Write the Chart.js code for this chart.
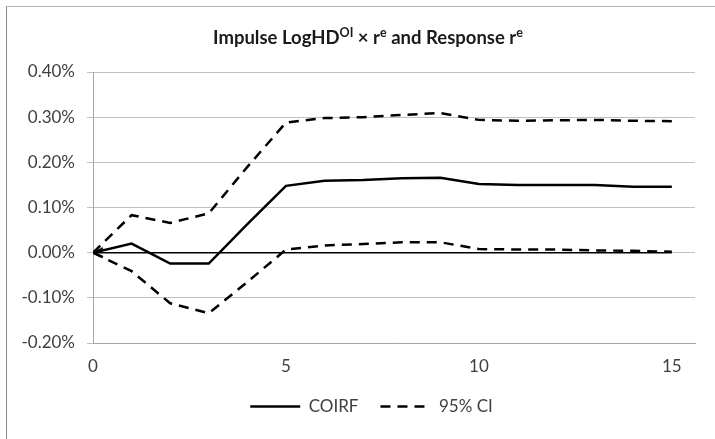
<!DOCTYPE html>
<html>
<head>
<meta charset="utf-8">
<script src="https://cdn.jsdelivr.net/npm/chart.js@4"></script>
<style>
    body { margin: 0; background: #fff; }
    .frame { position: absolute; left: 6px; top: 6px; width: 720px; height: 440px;
             border-top: 1px solid #b4b4b4; border-left: 1px solid #8c8c8c; }
    .wrap { position: absolute; left: 0; top: 0; width: 715px; height: 439px; }
</style>
</head>
<body>
<div class="frame"></div>
<div class="wrap"><canvas id="irfChart" width="715" height="439"></canvas></div>
<script>
    // Horizon (periods) and responses, in percent
    const periods = [0, 1, 2, 3, 4, 5, 6, 7, 8, 9, 10, 11, 12, 13, 14, 15];
    const coirf   = [0, 0.020, -0.024, -0.024, 0.063, 0.148, 0.159, 0.161, 0.165, 0.166, 0.152, 0.150, 0.150, 0.150, 0.146, 0.146];
    const ciUpper = [0, 0.083, 0.066, 0.087, 0.190, 0.288, 0.298, 0.300, 0.305, 0.309, 0.294, 0.292, 0.293, 0.294, 0.292, 0.291];
    const ciLower = [0, -0.041, -0.112, -0.134, -0.065, 0.007, 0.016, 0.019, 0.023, 0.023, 0.008, 0.007, 0.007, 0.005, 0.004, 0.002];
    const zeroLine = periods.map(() => 0);
    const xTicks = [0, 5, 10, 15];

    const FONT = 'Lato, "Open Sans", sans-serif';
    const DASH = [10, 7];

    // Open arrow head marking the start of the zero line
    const arrow = document.createElement('canvas');
    arrow.width = 24;
    arrow.height = 14;
    const actx = arrow.getContext('2d');
    actx.strokeStyle = '#000';
    actx.lineWidth = 2.2;
    actx.beginPath();
    actx.moveTo(22, 2.5);
    actx.lineTo(12.5, 7);
    actx.lineTo(22, 11.5);
    actx.stroke();

    const toPoints = arr => arr.map((v, i) => ({ x: periods[i], y: v }));

    // Title with superscripts
    const titlePlugin = {
        id: 'supTitle',
        afterLayout(chart) {
            // legend sits a bit right of the canvas centre
            chart.legend.left += 24;
            chart.legend.right += 24;
        },
        afterDraw(chart) {
            const ctx = chart.ctx;
            const parts = [
                ['Impulse LogHD', false], ['OI', true], [' \u00d7 r', false], ['e', true],
                [' and Response r', false], ['e', true]
            ];
            const big = 'bold 18.5px ' + FONT;
            const small = 'bold 12.5px ' + FONT;
            ctx.save();
            let total = 0;
            parts.forEach(p => { ctx.font = p[1] ? small : big; total += ctx.measureText(p[0]).width; });
            let x = 368 - total / 2;
            ctx.fillStyle = '#1a1a1a';
            ctx.textBaseline = 'alphabetic';
            parts.forEach(p => {
                ctx.font = p[1] ? small : big;
                ctx.fillText(p[0], x, p[1] ? 37 : 44);
                x += ctx.measureText(p[0]).width;
            });
            ctx.restore();
        }
    };

    new Chart(document.getElementById('irfChart'), {
        type: 'line',
        data: {
            datasets: [{
                label: 'COIRF',
                data: toPoints(coirf),
                borderColor: '#000',
                borderWidth: 2.5,
                pointRadius: 0,
                tension: 0
            }, {
                label: '95% CI',
                data: toPoints(ciUpper),
                borderColor: '#000',
                borderWidth: 2.5,
                borderDash: DASH,
                pointRadius: 0,
                tension: 0
            }, {
                label: 'lower',
                data: toPoints(ciLower),
                borderColor: '#000',
                borderWidth: 2.5,
                borderDash: DASH,
                pointRadius: 0,
                tension: 0
            }, {
                label: 'zero',
                data: toPoints(zeroLine),
                borderColor: '#000',
                borderWidth: 1.5,
                pointRadius: ctx => ctx.dataIndex === 0 ? 6 : 0,
                pointStyle: arrow,
                tension: 0
            }]
        },
        options: {
            responsive: false,
            animation: false,
            layout: { padding: { left: 0, right: 20, top: 72, bottom: 14 } },
            scales: {
                x: {
                    type: 'linear',
                    min: 0,
                    max: 15.6,
                    afterBuildTicks: scale => { scale.ticks = xTicks.map(v => ({ value: v })); },
                    afterFit: scale => { scale.height = 33; },
                    grid: { display: true, drawOnChartArea: false, drawTicks: false, color: '#a6a6a6' },
                    border: { color: '#a6a6a6', width: 1 },
                    ticks: { padding: 13, color: '#404040', font: { family: FONT, size: 17 } }
                },
                y: {
                    min: -0.2,
                    max: 0.4,
                    afterFit: scale => { scale.width = 93; },
                    grid: { color: '#c0c0c0', tickLength: 6, lineWidth: 1 },
                    border: { color: '#a6a6a6', width: 1 },
                    ticks: {
                        stepSize: 0.1,
                        padding: 12,
                        color: '#404040',
                        font: { family: FONT, size: 17 },
                        callback: v => v.toFixed(2) + '%'
                    }
                }
            },
            plugins: {
                title: { display: false },
                tooltip: { enabled: false },
                legend: {
                    position: 'bottom',
                    labels: {
                        filter: item => item.datasetIndex < 2,
                        generateLabels: chart => {
                            const items = Chart.defaults.plugins.legend.labels.generateLabels(chart);
                            items.forEach(item => {
                                const ds = chart.data.datasets[item.datasetIndex];
                                item.lineDash = ds.borderDash || [];
                                item.lineWidth = 2.5;
                                item.pointStyle = 'line';
                            });
                            return items;
                        },
                        usePointStyle: true,
                        pointStyle: 'line',
                        pointStyleWidth: 50,
                        padding: 22,
                        color: '#404040',
                        font: { family: FONT, size: 17 }
                    }
                }
            }
        },
        plugins: [titlePlugin]
    });
</script>
</body>
</html>
